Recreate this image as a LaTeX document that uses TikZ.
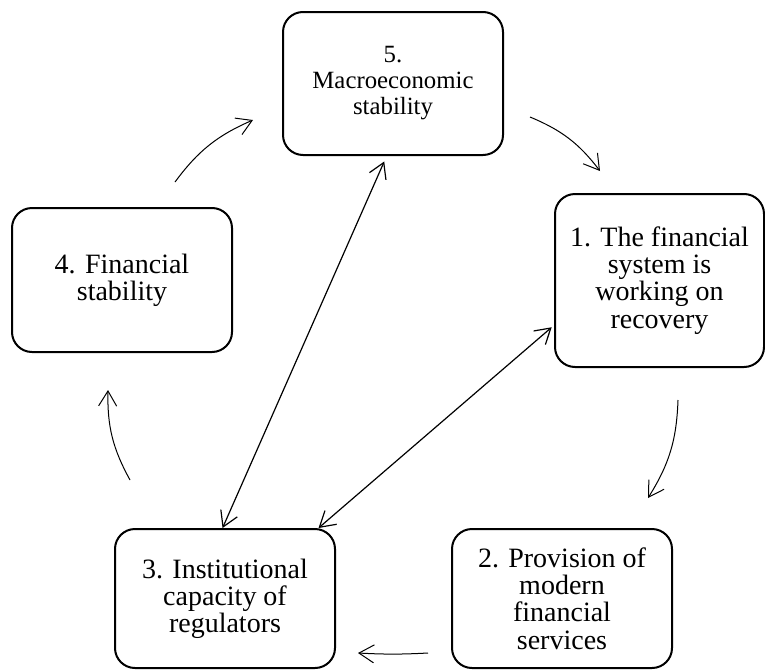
\documentclass[tikz,border=0pt]{standalone}
\usepackage{fontspec}
\setmainfont{Liberation Serif}
\usepackage{tikz}
\usetikzlibrary{arrows.meta,positioning}

\tikzset{
  stage/.style = {draw, line width = 1pt, rounded corners = 10pt,
    minimum width = 110pt, align = center, inner sep = 2pt,
    font = \fontsize{14}{13.6}\selectfont},
  cyc/.style  = {-{Straight Barb[length = 7.5pt, width = 9pt]}, line width = 0.5pt},
  link/.style = {{Straight Barb[length = 7.5pt, width = 9pt]}-{Straight Barb[length = 7.5pt, width = 9pt]},
    line width = 0.6pt}
}

\begin{document}
\begin{tikzpicture}[x = 0.5pt, y = -0.5pt]
  \useasboundingbox (0,0) rectangle (765,669);

  % stages of the cycle
  \node[stage, minimum height = 71.5pt, font = \fontsize{12.4}{13}\selectfont] (macro) at (393,83.5)
    {5.\\Macroeconomic\\stability};
  \node[stage, minimum width = 104.5pt, minimum height = 86.5pt] (recovery) at (659.5,280.5)
    {1. The financial\\system is\\working on\\recovery};
  \node[stage, minimum height = 69.5pt] (services) at (562,598.5)
    {2. Provision of\\modern\\financial\\services};
  \node[stage, minimum height = 69.5pt] (capacity) at (225,598.5)
    {3. Institutional\\capacity of\\regulators};
  \node[stage, minimum height = 72pt] (finstab) at (122,280)
    {4. Financial\\stability};

  % free ends of the cycle arrows
  \coordinate (fin-out) at (175,182);
  \coordinate (mac-in)  at (253,120);
  \coordinate (mac-out) at (530,117);
  \coordinate (rec-in)  at (600,171);
  \coordinate (rec-out) at (678,400);
  \coordinate (ser-in)  at (648,498);
  \coordinate (ser-out) at (428,653);
  \coordinate (cap-in)  at (358,653);
  \coordinate (cap-out) at (130,480);
  \coordinate (fin-in)  at (108,390);

  % cycle arrows
  \draw[cyc] (fin-out) to[bend left = 15] (mac-in);
  \draw[cyc] (mac-out) to[bend left = 15] (rec-in);
  \draw[cyc] (rec-out) to[bend left = 15] (ser-in);
  \draw[cyc] (ser-out) to[bend left = 3]  (cap-in);
  \draw[cyc] (cap-out) to[bend left = 15] (fin-in);

  % links to the regulators
  \draw[link, shorten <= 3pt] (macro.265) -- (capacity.92);
  \draw[link, shorten <= 1.5pt] (recovery.203) -- (capacity.37);
\end{tikzpicture}
\end{document}
